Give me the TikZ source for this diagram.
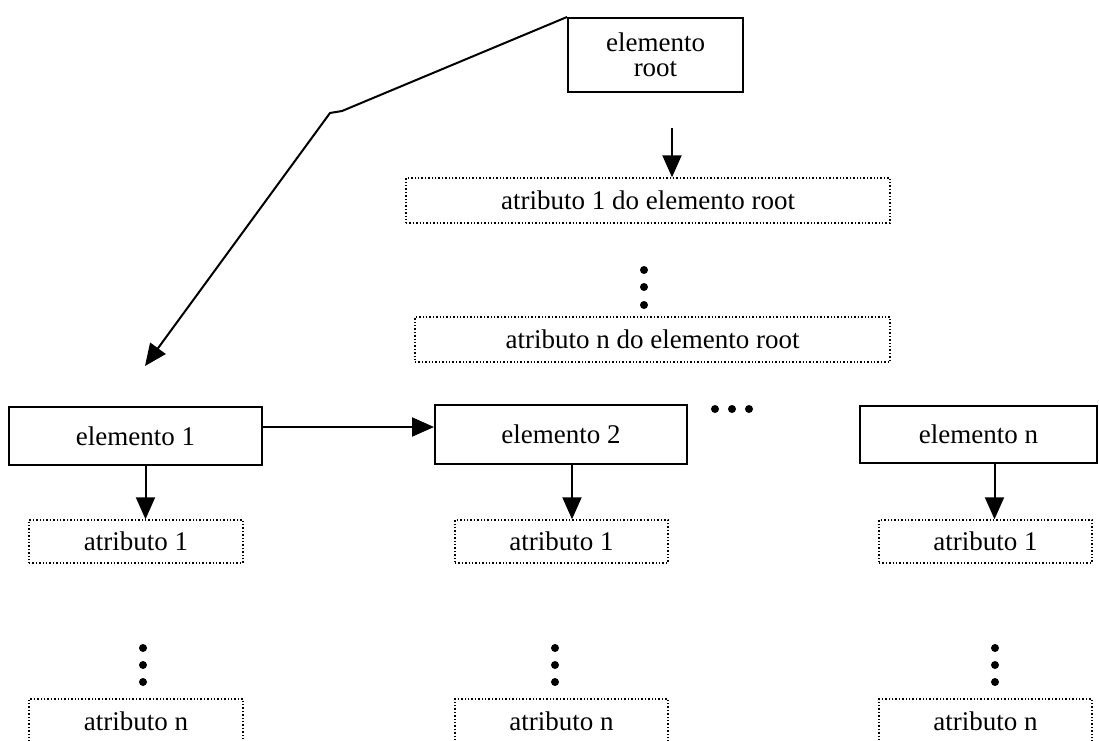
\documentclass[tikz,border=0pt]{standalone}
\usepackage{fontspec}
\setmainfont{Liberation Serif}
\usetikzlibrary{arrows.meta}

\begin{document}
\begin{tikzpicture}[x=0.5pt,y=-0.5pt,
  elem/.style={draw, line width=1pt, inner sep=0pt, font=\fontsize{13.5}{12.5}\selectfont, align=center},
  attr/.style={draw, densely dotted, line width=0.7pt, inner sep=0pt, font=\fontsize{13.5}{14}\selectfont},
  arr/.style={line width=1pt, -{Triangle[length=11pt,width=9.5pt]}},
  ponto/.style={fill=black}]
\useasboundingbox (0,0) rectangle (1099,740);
\clip (0,0) rectangle (1099,740);

% elemento root e seus atributos
\node[elem, minimum width=87.5pt, minimum height=37pt] (root) at (655.5,55) {elemento\\root};
\node[attr, minimum width=242pt, minimum height=22.5pt] (a1root) at (648,200.5) {atributo 1 do elemento root};
\node[attr, minimum width=237.5pt, minimum height=22.5pt] (anroot) at (652.5,339.5) {atributo n do elemento root};
\coordinate (rootarr) at (672,128);
\draw[arr] (rootarr) -- (rootarr |- a1root.north);
\foreach \y in {270,287,305} \fill[ponto] (644,\y) circle (2pt);

% elementos filhos
\node[elem, minimum width=126.5pt, minimum height=29pt] (e1) at (135.5,436) {elemento 1};
\node[elem, minimum width=126pt, minimum height=29.5pt] (e2) at (561,434.5) {elemento 2};
\node[elem, minimum width=118.5pt, minimum height=28.5pt] (en) at (978.5,434.5) {elemento n};
\foreach \x in {715,732,749} \fill[ponto] (\x,409) circle (2pt);

\coordinate (bend) at (330,113);
\coordinate (tip) at (145,366);
\draw[arr] (root.north west) -- (342,111) -- (bend) -- (tip);
\draw[arr] ([yshift=4.5pt]e1.east) -- ([yshift=4.5pt]e1.east -| e2.west);

% atributos dos elementos
\node[attr, minimum width=107pt, minimum height=21.5pt] (a11) at (136,541.5) {atributo 1};
\node[attr, minimum width=106.5pt, minimum height=21.5pt] (a21) at (561.5,541.5) {atributo 1};
\node[attr, minimum width=106.5pt, minimum height=21.5pt] (an1) at (985.5,541.5) {atributo 1};
\node[attr, minimum width=107pt, minimum height=22pt] (a1n) at (136,721) {atributo n};
\node[attr, minimum width=106.5pt, minimum height=22pt] (a2n) at (561.5,721) {atributo n};
\node[attr, minimum width=106.5pt, minimum height=22pt] (ann) at (985.5,721) {atributo n};

\draw[arr] ([xshift=5pt]e1.south) -- ([xshift=5pt]e1.south |- a11.north);
\draw[arr] ([xshift=5.5pt]e2.south) -- ([xshift=5.5pt]e2.south |- a21.north);
\draw[arr] ([xshift=8pt]en.south) -- ([xshift=8pt]en.south |- an1.north);

\foreach \x in {143,555,995}
  \foreach \y in {648,665,682}
    \fill[ponto] (\x,\y) circle (2pt);
\end{tikzpicture}
\end{document}
